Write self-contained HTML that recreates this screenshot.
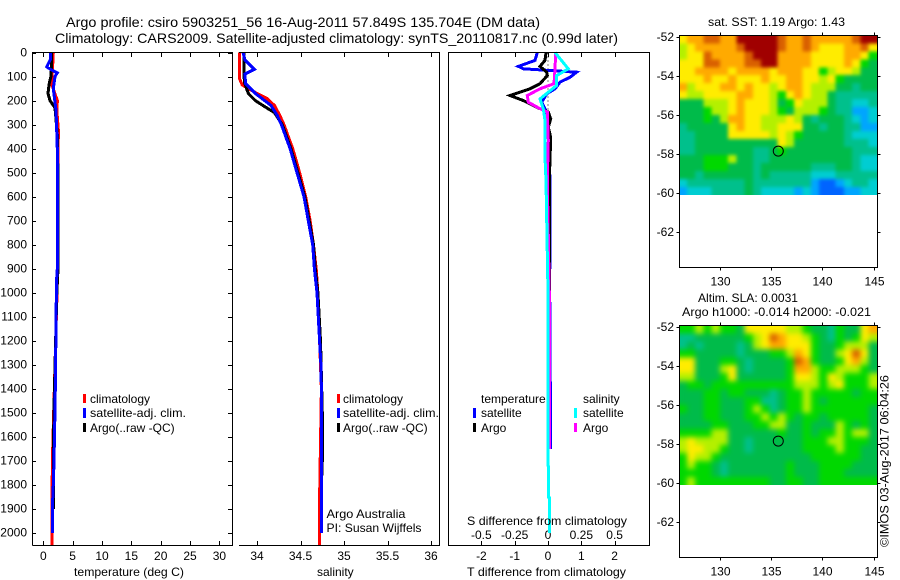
<!DOCTYPE html>
<html lang="en">
<head>
<meta charset="utf-8">
<title>Argo profile csiro 5903251_56</title>
<style>
html,body{margin:0;padding:0;background:#fff;}
svg{display:block;}
text{font-family:"Liberation Sans",sans-serif;font-size:12px;fill:#000;}
.title{font-size:14px;}
.sub{font-size:12.5px;}
</style>
</head>
<body>
<svg id="chart" xmlns="http://www.w3.org/2000/svg" width="900" height="580" viewBox="0 0 900 580">
<defs>
<filter id="soft-sst" x="-10%" y="-10%" width="120%" height="120%" color-interpolation-filters="sRGB">
<feGaussianBlur stdDeviation="1.8"/>
<feComponentTransfer><feFuncA type="linear" slope="100"/></feComponentTransfer>
</filter>
<filter id="soft-sla" x="-10%" y="-10%" width="120%" height="120%" color-interpolation-filters="sRGB">
<feGaussianBlur stdDeviation="2.6"/>
<feComponentTransfer><feFuncA type="linear" slope="100"/></feComponentTransfer>
</filter>
<clipPath id="clip-sst"><rect x="679" y="35" width="198.5" height="160"/></clipPath>
<clipPath id="clip-sla"><rect x="679" y="325" width="198.5" height="160"/></clipPath>
</defs>
<rect x="0" y="0" width="900" height="580" fill="#fff"/>
<text class="title" x="66" y="27" textLength="474" lengthAdjust="spacingAndGlyphs">Argo profile: csiro 5903251_56 16-Aug-2011 57.849S 135.704E (DM data)</text>
<text class="title" x="55" y="43" textLength="563" lengthAdjust="spacingAndGlyphs">Climatology: CARS2009. Satellite-adjusted climatology: synTS_20110817.nc (0.99d later)</text>

<g id="p1"></g>
<g id="p2"></g>
<g id="p3"></g>
<g id="m1"></g>
<g id="m2"></g>

<path d="M32.5 545.5V52.5H232.5V545.5H32.5" fill="none" stroke="#000"/>
<path d="M239 52.5H439.5V545.5H239" fill="none" stroke="#000"/>
<rect x="448.5" y="52.5" width="201" height="493" fill="none" stroke="#000"/>
<rect x="679.5" y="35.5" width="198" height="232" fill="none" stroke="#000"/>
<rect x="679.5" y="325.5" width="198" height="232" fill="none" stroke="#000"/>

<text x="74" y="576" textLength="110" lengthAdjust="spacingAndGlyphs">temperature (deg C)</text>
<text x="317" y="576">salinity</text>
<text x="467" y="576" textLength="159" lengthAdjust="spacingAndGlyphs">T difference from climatology</text>
<text x="467" y="525" textLength="160" lengthAdjust="spacingAndGlyphs">S difference from climatology</text>

<g>
<rect x="83" y="394" width="3" height="9" fill="#f00"/>
<rect x="83" y="408" width="3" height="10" fill="#00f"/>
<rect x="83" y="423" width="3" height="9" fill="#000"/>
<text x="90" y="403">climatology</text>
<text x="90" y="417" textLength="96" lengthAdjust="spacingAndGlyphs">satellite-adj. clim.</text>
<text x="90" y="432">Argo(..raw -QC)</text>
</g>
<g>
<rect x="337" y="394" width="3" height="9" fill="#f00"/>
<rect x="337" y="408" width="3" height="10" fill="#00f"/>
<rect x="337" y="423" width="3" height="9" fill="#000"/>
<text x="343" y="403">climatology</text>
<text x="343" y="417" textLength="96" lengthAdjust="spacingAndGlyphs">satellite-adj. clim.</text>
<text x="343" y="432">Argo(..raw -QC)</text>
<text x="326.5" y="518" textLength="79" lengthAdjust="spacingAndGlyphs">Argo Australia</text>
<text x="326.5" y="532" textLength="95" lengthAdjust="spacingAndGlyphs">PI: Susan Wijffels</text>
</g>
<g>
<text x="481" y="403">temperature</text>
<text x="583" y="403">salinity</text>
<rect x="473" y="408" width="3" height="10" fill="#00f"/>
<rect x="473" y="423" width="3" height="9" fill="#000"/>
<rect x="574" y="408" width="3" height="10" fill="#0ff"/>
<rect x="574" y="423" width="3" height="9" fill="#f0f"/>
<text x="481" y="417">satellite</text>
<text x="481" y="432">Argo</text>
<text x="583" y="417">satellite</text>
<text x="583" y="432">Argo</text>
</g>

<text x="708" y="26" textLength="137" lengthAdjust="spacingAndGlyphs">sat. SST: 1.19 Argo: 1.43</text>
<text x="698" y="302" textLength="100" lengthAdjust="spacingAndGlyphs">Altim. SLA: 0.0031</text>
<text x="682" y="316" textLength="189" lengthAdjust="spacingAndGlyphs">Argo h1000: -0.014 h2000: -0.021</text>
<text transform="translate(888.5 547) rotate(-90)" x="0" y="0" textLength="172" lengthAdjust="spacingAndGlyphs">©IMOS 03-Aug-2017 06:04:26</text>
</svg>

<script>
/* ---------- axis tick data ---------- */
const depthTicks = [0,100,200,300,400,500,600,700,800,900,1000,1100,1200,1300,1400,1500,1600,1700,1800,1900,2000];
const tempTicks = [0,5,10,15,20,25,30];
const salTicks = [34,34.5,35,35.5,36];
const salTickLabels = ['34','34.5','35','35.5','36'];
const diffTTicks = [-2,-1,0,1,2];
const diffSTicks = [-0.5,-0.25,0,0.25,0.5];
const diffSTickLabels = ['-0.5','-0.25','0','0.25','0.5'];
const lonTicks = [130,135,140,145];
const latTicks = [52,54,56,58,60,62];
const argoLon = 135.704;
const argoLat = 57.849;

/* ---------- temperature profiles ---------- */
const tempClimDepth = [0,50,130,160,200,240,320,900,1450,1650,1800,2052];
const tempClimValue = [1.7,1.6,1.4,1.8,2.4,2.3,2.55,2.45,1.82,1.6,1.5,1.45];
const tempSatDepth = [0,30,60,70,85,100,150,240,300,400,900,950,1400,1550,1700,1800,1900,2000];
const tempSatValue = [1.26,1.2,0.58,1.2,2.39,2,1.7,2.16,2.25,2.39,2.39,2.25,2.05,1.95,1.82,1.7,1.54,1.54];
const tempArgoDepth = [0,50,100,130,170,200,230,360,900,1000,1500,1700,1900];
const tempArgoValue = [1.43,1.43,1.3,1,0.8,1.14,2,2.45,2.5,2.3,1.8,1.7,1.75];

/* ---------- salinity profiles ---------- */
const salClimDepth = [0,50,110,135,150,170,190,220,260,300,350,400,450,500,600,700,800,900,1000,1200,1400,1850,2052];
const salClimValue = [33.8,33.8,33.8,33.83,33.9,34,34.11,34.2,34.26,34.31,34.36,34.41,34.45,34.49,34.56,34.61,34.65,34.68,34.7,34.72,34.74,34.72,34.72];
const salSatDepth = [0,30,70,90,130,170,220,260,300,350,400,450,500,600,700,800,900,1000,1200,1300,1400,2000];
const salSatValue = [33.84,33.86,33.97,33.86,33.87,33.98,34.16,34.23,34.28,34.33,34.38,34.42,34.46,34.54,34.59,34.64,34.66,34.69,34.72,34.735,34.74,34.74];
const salArgoDepth = [0,50,100,130,170,200,230,250,300,350,400,450,500,600,700,800,900,1000,1200,1500,1700,1800];
const salArgoValue = [33.85,33.85,33.85,33.86,33.9,33.98,34.11,34.2,34.29,34.34,34.39,34.43,34.47,34.55,34.6,34.65,34.67,34.7,34.73,34.75,34.75,34.74];

/* ---------- difference profiles ---------- */
const diffTSatDepth = [0,33,58,68,82,103,123,151,172,207,234,269,366,533,1000,1400,1650];
const diffTSatValue = [-0.32,-0.39,-0.89,-0.74,0.86,0.66,0.36,0.21,-0.04,-0.19,-0.09,0.01,0.01,0.06,0.05,0.07,0.08];
const diffTArgoDepth = [0,33,58,82,96,130,151,179,200,214,234,248,276,311,353,533,1000,1650];
const diffTArgoValue = [-0.06,-0.09,-0.24,-0.04,-0.02,-0.24,-0.54,-1.14,-0.74,-0.54,-0.24,0.01,0.08,0.01,0.08,0.04,0.05,0.05];
const diffSSatDepth = [0,68,96,137,193,234,283,436,533,1000,1850,1852,2000];
const diffSSatValue = [0.0525,0.1525,0.065,0.065,-0.06,-0.035,-0.0225,-0.0225,-0.015,0,0.0025,0.01,0.01];
const diffSArgoDepth = [0,68,130,151,179,207,234,248,366,533,1000,1650];
const diffSArgoValue = [0.0575,0.0525,0.045,-0.06,-0.155,-0.1475,-0.06,-0.005,0.0025,-0.005,0.01,0.01];

/* ---------- map cell values (colour index 0..10) ---------- */
const sstCells = [
[7,8,8,9,9,8,8,10,10,10,10,10,9,8,8,9,8,8,8,8,8,9,10,10],
[6,7,8,8,8,8,8,9,10,10,10,10,9,8,8,9,8,7,7,7,8,8,9,7],
[6,7,7,9,8,8,8,8,9,10,10,10,8,8,8,8,7,7,7,7,8,8,7,5],
[7,7,7,9,9,8,8,8,9,9,10,10,8,8,8,8,7,7,7,7,8,7,5,4],
[7,7,8,8,8,8,7,8,8,8,8,7,8,8,8,7,7,5,6,7,7,6,4,4],
[7,7,7,8,7,7,8,7,7,7,8,7,7,8,8,7,7,6,7,5,4,4,4,4],
[8,6,7,7,7,8,8,7,8,7,7,6,7,8,8,7,6,6,6,4,4,3,4,4],
[7,6,6,7,7,7,7,8,8,7,7,6,5,7,8,7,6,6,4,3,3,3,3,3],
[4,4,4,6,6,6,7,8,7,7,7,6,4,5,7,6,6,6,4,3,3,2,2,3],
[4,4,4,5,6,6,7,8,7,7,7,6,5,4,6,6,6,5,4,3,3,1,1,2],
[4,4,4,5,4,6,8,8,7,7,6,6,6,7,6,4,3,4,4,4,3,2,1,2],
[3,4,4,4,4,4,7,8,7,7,6,6,7,7,7,4,4,3,4,4,3,3,1,1],
[3,3,4,4,4,4,7,7,7,7,7,6,7,6,5,4,4,4,4,4,3,2,2,2],
[3,3,4,4,4,4,4,4,4,4,4,4,7,6,4,4,4,4,4,4,3,3,3,2],
[3,3,4,4,4,4,4,4,4,3,3,4,5,4,4,4,4,4,4,4,4,3,3,3],
[4,4,4,5,5,5,6,4,4,3,3,4,4,4,4,4,4,4,4,4,4,3,2,2],
[4,4,4,5,5,5,4,4,4,3,4,4,4,4,4,4,3,3,3,4,4,3,2,2],
[4,4,3,4,4,4,4,4,4,3,4,3,3,3,3,3,2,2,2,3,3,3,3,3],
[2,3,3,3,3,3,3,3,4,3,3,3,3,3,3,3,1,0,0,1,2,3,3,2],
[1,2,2,2,3,3,3,3,4,3,2,2,2,2,1,2,1,0,0,0,1,1,2,2]
];
const slaCells = [
[5,5,6,5,6,5,5,4,7,7,7,7,7,6,6,5,4,4,3,5,4,4,7,8],
[3,3,4,4,4,4,4,4,5,6,7,9,8,7,7,6,5,4,3,5,4,5,7,6],
[3,4,3,4,4,4,4,3,4,6,7,8,8,7,7,7,5,4,4,5,6,6,6,4],
[5,5,4,4,4,4,4,3,4,4,4,5,5,6,8,7,5,4,4,6,7,9,7,4],
[7,7,4,4,4,5,5,4,3,4,4,4,4,5,9,8,5,4,4,5,7,8,6,4],
[7,7,4,4,4,6,7,4,3,4,4,4,4,5,8,8,6,5,5,6,6,6,5,4],
[6,6,4,4,4,5,7,4,4,4,4,4,4,5,7,7,6,5,7,6,5,5,5,6],
[4,5,5,4,5,5,5,5,5,5,5,5,5,5,6,6,6,5,6,7,5,5,5,6],
[4,4,4,5,5,4,5,5,4,4,4,3,4,5,5,6,5,5,5,5,5,4,5,5],
[4,4,4,5,5,4,4,4,5,5,3,3,4,5,5,6,5,4,5,5,5,5,5,5],
[5,4,4,5,5,4,4,4,5,6,5,3,4,5,5,6,5,5,5,5,5,5,5,4],
[4,4,4,5,5,4,4,4,5,5,6,5,6,5,4,5,5,4,5,5,5,5,5,4],
[4,4,4,4,5,5,4,4,4,5,5,6,6,4,4,5,4,4,4,6,5,4,5,4],
[5,5,5,5,6,6,4,4,4,4,4,4,5,4,4,5,4,5,5,6,5,6,6,4],
[6,7,6,6,6,6,4,4,3,4,4,4,4,4,4,5,5,5,6,6,5,5,5,4],
[6,7,7,6,6,5,4,4,3,4,4,4,4,4,4,5,5,5,5,6,5,5,4,4],
[5,7,6,6,5,4,4,4,4,4,4,4,4,4,4,4,5,5,5,5,5,5,4,4],
[5,6,5,5,4,3,4,4,4,4,4,4,4,5,4,4,4,5,5,5,5,4,4,4],
[5,5,5,5,4,3,4,4,4,4,4,4,4,5,4,4,4,5,5,5,4,4,4,4],
[5,6,5,5,5,5,5,5,5,5,5,4,4,5,5,4,4,5,5,5,5,5,5,5]
];

/* ---------- axis functions ---------- */
const depthY = d => 52.5 + d * 0.2403;
const tempX = t => 43.3 + t * 5.87;
const salX = s => 257 + (s - 34) * 87;
const diffTX = t => 548 + t * 33.3;
const diffSX = s => 548 + s * 133.3;
const lonX = lon => 719.7 + (lon - 130) * 10.27;
const latY = (lat, top) => top + (lat - 52) * 19.45;

const NS = 'http://www.w3.org/2000/svg';
const palette = ['#0064ff','#00a5ff','#00cdd2','#00c08c','#00bb4a','#00d800','#b4f000','#ffec00','#ffaa00','#d96000','#a00000'];

function drawLine(parent, name, depths, values, xFn, color) {
  const el = document.createElementNS(NS, 'polyline');
  
  
  el.setAttribute('points', depths.map((d, i) => xFn(values[i]).toFixed(1) + ',' + depthY(d).toFixed(1)).join(' '));
  el.setAttribute('fill', 'none');
  el.setAttribute('stroke', color);
  el.setAttribute('stroke-width', '3');
  el.setAttribute('shape-rendering', 'crispEdges');
  parent.appendChild(el);
}
function drawTick(parent, name, x1, y1, x2, y2) {
  const el = document.createElementNS(NS, 'line');
  
  
  el.setAttribute('x1', x1);
  el.setAttribute('y1', y1);
  el.setAttribute('x2', x2);
  el.setAttribute('y2', y2);
  el.setAttribute('stroke', '#000');
  el.setAttribute('shape-rendering', 'crispEdges');
  parent.appendChild(el);
}
function drawLabel(parent, name, x, y, anchor, str) {
  const el = document.createElementNS(NS, 'text');
  
  
  el.setAttribute('x', x);
  el.setAttribute('y', y);
  el.setAttribute('text-anchor', anchor);
  el.textContent = str;
  parent.appendChild(el);
}
function drawBottomTopTicks(parent, name, ticks, xFn) {
  ticks.forEach(t => {
    const x = Math.round(xFn(t)) + 0.5;
    drawTick(parent, name + '-top-tick', x, 52, x, 57);
    drawTick(parent, name + '-bottom-tick', x, 541, x, 545);
  });
}
function drawMap(parent, name, cells, top, clipId, filterId) {
  const rows = cells.length, cols = cells[0].length;
  const lonLeft = 126.0, lonRight = 145.3, latTop = 51.9, latBottom = 60.1;
  const dLon = (lonRight - lonLeft) / cols, dLat = (latBottom - latTop) / rows;
  const clipGroup = document.createElementNS(NS, 'g');
  
  
  clipGroup.setAttribute('clip-path', 'url(#' + clipId + ')');
  parent.appendChild(clipGroup);
  const softGroup = document.createElementNS(NS, 'g');
  
  
  softGroup.setAttribute('filter', 'url(#' + filterId + ')');
  clipGroup.appendChild(softGroup);
  cells.forEach((row, r) => row.forEach((v, c) => {
    const el = document.createElementNS(NS, 'rect');
    
    
    const x0 = lonX(lonLeft + c * dLon), x1 = lonX(lonLeft + (c + 1) * dLon);
    const y0 = latY(latTop + r * dLat, top), y1 = latY(latTop + (r + 1) * dLat, top);
    el.setAttribute('x', x0.toFixed(2));
    el.setAttribute('y', y0.toFixed(2));
    el.setAttribute('width', (x1 - x0 + 0.4).toFixed(2));
    el.setAttribute('height', (y1 - y0 + 0.4).toFixed(2));
    el.setAttribute('fill', palette[v]);
    el.setAttribute('shape-rendering', 'crispEdges');
    softGroup.appendChild(el);
  }));
  const frameTop = top - 2, frameBottom = top + 230, frameLeft = 679.5, frameRight = 877.5;
  latTicks.forEach(lat => {
    const y = Math.round(latY(lat, top)) + 0.5;
    drawTick(parent, name + '-lat-tick', frameLeft - 3, y, frameLeft, y);
    drawTick(parent, name + '-lat-tick-right', frameRight, y, frameRight + 3, y);
    drawLabel(parent, name + '-lat-label', 674, y + 3.5, 'end', '-' + lat);
  });
  lonTicks.forEach(lon => {
    const x = Math.round(lonX(lon)) + 0.5;
    drawTick(parent, name + '-lon-tick-top', x, frameTop - 3, x, frameTop);
    drawTick(parent, name + '-lon-tick-bottom', x, frameBottom, x, frameBottom + 3);
    drawLabel(parent, name + '-lon-label', x, frameBottom + 18, 'middle', String(lon));
  });
  const circle = document.createElementNS(NS, 'circle');
  
  
  circle.setAttribute('cx', lonX(argoLon));
  circle.setAttribute('cy', latY(argoLat, top));
  circle.setAttribute('r', 5);
  circle.setAttribute('fill', 'none');
  circle.setAttribute('stroke', '#000');
  parent.appendChild(circle);
}

const p1 = document.getElementById('p1');
const p2 = document.getElementById('p2');
const p3 = document.getElementById('p3');

/* temperature panel */
depthTicks.forEach(d => {
  const y = Math.round(depthY(d)) + 0.5;
  drawTick(p1, 'depth-tick-left', 32, y, 36, y);
  drawTick(p1, 'depth-tick-right', 228, y, 232, y);
  drawLabel(p1, 'depth-tick-label', 27, y + 3, 'end', String(d));
});
drawBottomTopTicks(p1, 'temperature', tempTicks, tempX);
tempTicks.forEach(t => drawLabel(p1, 'temperature-tick-label', tempX(t), 560, 'middle', String(t)));
drawLine(p1, 'temperature-climatology-line', tempClimDepth, tempClimValue, tempX, '#f00');
drawLine(p1, 'temperature-argo-line', tempArgoDepth, tempArgoValue, tempX, '#000');
drawLine(p1, 'temperature-satellite-line', tempSatDepth, tempSatValue, tempX, '#00f');

/* salinity panel */
drawBottomTopTicks(p2, 'salinity', salTicks, salX);
salTicks.forEach((s, i) => drawLabel(p2, 'salinity-tick-label', salX(s), 560, 'middle', salTickLabels[i]));
drawLine(p2, 'salinity-climatology-line', salClimDepth, salClimValue, salX, '#f00');
drawLine(p2, 'salinity-argo-line', salArgoDepth, salArgoValue, salX, '#000');
drawLine(p2, 'salinity-satellite-line', salSatDepth, salSatValue, salX, '#00f');

/* difference panel */
drawBottomTopTicks(p3, 'difference', diffTTicks, diffTX);
diffTTicks.forEach(t => drawLabel(p3, 'temperature-difference-tick-label', diffTX(t), 560, 'middle', String(t)));
diffSTicks.forEach((s, i) => drawLabel(p3, 'salinity-difference-tick-label', diffSX(s), 539, 'middle', diffSTickLabels[i]));
const zeroLine = document.createElementNS(NS, 'line');


zeroLine.setAttribute('x1', diffTX(0));
zeroLine.setAttribute('x2', diffTX(0));
zeroLine.setAttribute('y1', depthY(0));
zeroLine.setAttribute('y2', depthY(300));
zeroLine.setAttribute('stroke', '#000');
zeroLine.setAttribute('stroke-dasharray', '1 3');
p3.appendChild(zeroLine);
drawLine(p3, 't-difference-satellite-line', diffTSatDepth, diffTSatValue, diffTX, '#00f');
drawLine(p3, 't-difference-argo-line', diffTArgoDepth, diffTArgoValue, diffTX, '#000');
drawLine(p3, 's-difference-argo-line', diffSArgoDepth, diffSArgoValue, diffSX, '#f0f');
drawLine(p3, 's-difference-satellite-line', diffSSatDepth, diffSSatValue, diffSX, '#0ff');

/* maps */
drawMap(document.getElementById('m1'), 'sst-map', sstCells, 37.3, 'clip-sst', 'soft-sst');
drawMap(document.getElementById('m2'), 'sla-map', slaCells, 327.3, 'clip-sla', 'soft-sla');
</script>
</body>
</html>
